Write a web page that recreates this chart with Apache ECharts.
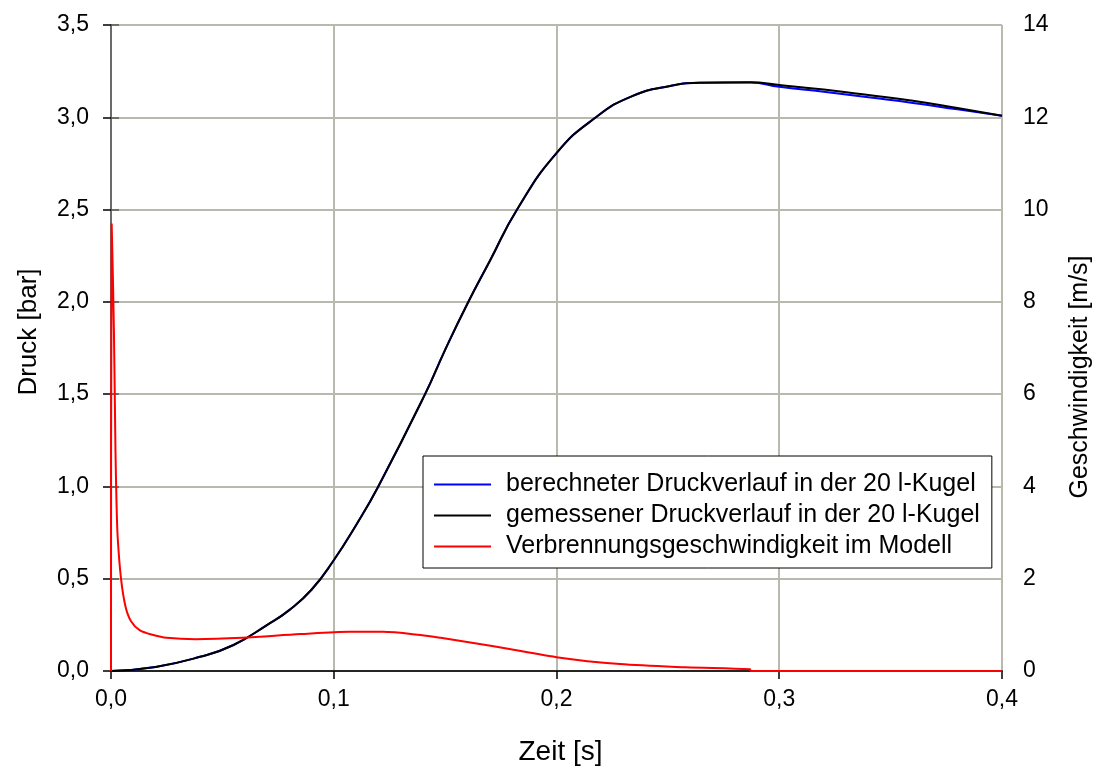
<!DOCTYPE html>
<html>
<head>
<meta charset="utf-8">
<script src="https://cdn.jsdelivr.net/npm/echarts@6/dist/echarts.min.js"></script>
<style>html,body{margin:0;padding:0;background:#fff;}#c{width:1100px;height:767px;}</style>
</head>
<body>
<div id="c"></div>
<script>
// Time [s] and pressure [bar] – measured (black)
const measuredT = [0, 0.02, 0.04, 0.055, 0.07, 0.08, 0.09, 0.1, 0.11, 0.12, 0.141, 0.15, 0.16, 0.17, 0.1823, 0.2, 0.2177, 0.234, 0.251, 0.264, 0.287, 0.30, 0.32, 0.34, 0.36, 0.38, 0.40];
const measuredP = [0, 0.022, 0.077, 0.141, 0.249, 0.33, 0.44, 0.6, 0.79, 1.0, 1.5, 1.74, 1.99, 2.22, 2.5, 2.806, 3.0, 3.115, 3.17, 3.187, 3.19, 3.175, 3.15, 3.121, 3.09, 3.05, 3.008];
// calculated (blue)
const calcT = [0, 0.02, 0.04, 0.055, 0.07, 0.08, 0.09, 0.1, 0.11, 0.12, 0.141, 0.15, 0.16, 0.17, 0.1823, 0.2, 0.2177, 0.234, 0.251, 0.264, 0.287, 0.30, 0.32, 0.34, 0.36, 0.38, 0.40];
const calcP = [0, 0.022, 0.077, 0.141, 0.249, 0.33, 0.44, 0.6, 0.79, 1.0, 1.5, 1.74, 1.99, 2.22, 2.5, 2.806, 3.0, 3.115, 3.17, 3.187, 3.188, 3.165, 3.138, 3.108, 3.078, 3.043, 3.008];
// burning velocity [m/s] (red)
const velT = [0, 0.0003, 0.0013, 0.002, 0.0025, 0.003, 0.0045, 0.0065, 0.009, 0.013, 0.019, 0.025, 0.038, 0.059, 0.085, 0.107, 0.122, 0.139, 0.148, 0.169, 0.2, 0.2285, 0.258, 0.2869, 0.2872, 0.4];
const velV = [0, 9.7, 7.4, 4.8, 3.6, 2.9, 2.0, 1.4, 1.08, 0.88, 0.78, 0.72, 0.69, 0.72, 0.80, 0.85, 0.85, 0.78, 0.72, 0.56, 0.30, 0.15, 0.08, 0.036, 0, 0];

const seriesNames = ['berechneter Druckverlauf in der 20 l-Kugel', 'gemessener Druckverlauf in der 20 l-Kugel', 'Verbrennungsgeschwindigkeit im Modell'];
const seriesColors = ['#0000ff', '#000000', '#ff0000'];
const xTicks = {min: 0, max: 0.4, interval: 0.1};
const leftTicks = {min: 0, max: 3.5, interval: 0.5};
const rightTicks = {min: 0, max: 14, interval: 2};

const zip = (a, b) => a.map((v, i) => [v, b[i]]);
const FONT = '"Liberation Sans", Arial, sans-serif';
const grid = '#b9b9ad';

const chart = echarts.init(document.getElementById('c'), null, {renderer: 'canvas'});
chart.setOption({
  animation: false,
  backgroundColor: '#fff',
  textStyle: {fontFamily: FONT},
  grid: {left: 111, right: 98, top: 25, bottom: 96, containLabel: false, outerBoundsMode: 'none'},
  legend: {
    orient: 'vertical', left: 423, top: 456,
    backgroundColor: '#fff', borderColor: '#000', borderWidth: 1,
    padding: [16, 12, 9, 11], itemGap: 6, itemWidth: 57, itemHeight: 2,
    icon: 'rect',
    textStyle: {fontFamily: FONT, fontSize: 25, color: '#000', padding: [0, 0, 0, 10]},
    data: seriesNames.map((n, i) => ({name: n, icon: 'rect', itemStyle: {color: seriesColors[i]}}))
  },
  xAxis: [{
    type: 'value', min: xTicks.min, max: xTicks.max, interval: xTicks.interval,
    name: 'Zeit [s]', nameLocation: 'middle', nameGap: 67,
    nameTextStyle: {fontSize: 28, color: '#000', fontFamily: FONT, padding: [0, 0, 0, 8]},
    axisLine: {show: true, onZero: false, lineStyle: {color: '#000', width: 1.5}},
    axisTick: {show: true, length: 8, lineStyle: {color: '#000', width: 1.5}},
    axisLabel: {fontSize: 23, color: '#000', margin: 17, fontFamily: FONT,
      formatter: v => v.toFixed(1).replace('.', ',')},
    splitLine: {show: true, lineStyle: {color: grid, width: 2}}
  }, {
    type: 'value', position: 'top', min: xTicks.min, max: xTicks.max, interval: xTicks.interval,
    axisLine: {show: true, lineStyle: {color: '#222', width: 1.5}},
    axisTick: {show: false}, axisLabel: {show: false}, splitLine: {show: false}
  }],
  yAxis: [{
    type: 'value', position: 'left', min: leftTicks.min, max: leftTicks.max, interval: leftTicks.interval,
    name: 'Druck [bar]', nameLocation: 'middle', nameGap: 69,
    nameTextStyle: {fontSize: 26, color: '#000', fontFamily: FONT, padding: [0, 0, 0, 32]},
    axisLine: {show: true, lineStyle: {color: '#000', width: 1.5}},
    axisTick: {show: true, length: 8, lineStyle: {color: '#000', width: 1.5}},
    axisLabel: {fontSize: 23, color: '#000', margin: 22, fontFamily: FONT,
      formatter: v => v.toFixed(1).replace('.', ',')},
    splitLine: {show: true, lineStyle: {color: grid, width: 2}}
  }, {
    type: 'value', position: 'right', min: rightTicks.min, max: rightTicks.max, interval: rightTicks.interval,
    name: 'Geschwindigkeit [m/s]', nameLocation: 'middle', nameGap: 66, nameRotate: 90,
    nameTextStyle: {fontSize: 25, color: '#000', fontFamily: FONT, padding: [0, 58, 0, 0]},
    axisLine: {show: true, lineStyle: {color: '#808080', width: 1.5}},
    axisTick: {show: true, length: 8, lineStyle: {color: '#555', width: 1.5}},
    axisLabel: {fontSize: 23, color: '#000', margin: 21, fontFamily: FONT,
      formatter: v => String(v)},
    splitLine: {show: false}
  }],
  series: [{
    name: seriesNames[0], type: 'line', xAxisIndex: 0, yAxisIndex: 0,
    data: zip(calcT, calcP), symbol: 'none', smooth: 0.5,
    lineStyle: {color: seriesColors[0], width: 2}, itemStyle: {color: seriesColors[0]}, z: 2
  }, {
    name: seriesNames[1], type: 'line', xAxisIndex: 0, yAxisIndex: 0,
    data: zip(measuredT, measuredP), symbol: 'none', smooth: 0.5,
    lineStyle: {color: seriesColors[1], width: 2}, itemStyle: {color: seriesColors[1]}, z: 3
  }, {
    name: seriesNames[2], type: 'line', xAxisIndex: 0, yAxisIndex: 1,
    data: zip(velT, velV), symbol: 'none', smooth: 0.3, clip: false,
    lineStyle: {color: seriesColors[2], width: 2}, itemStyle: {color: seriesColors[2]}, z: 4
  }]
});
</script>
</body>
</html>
